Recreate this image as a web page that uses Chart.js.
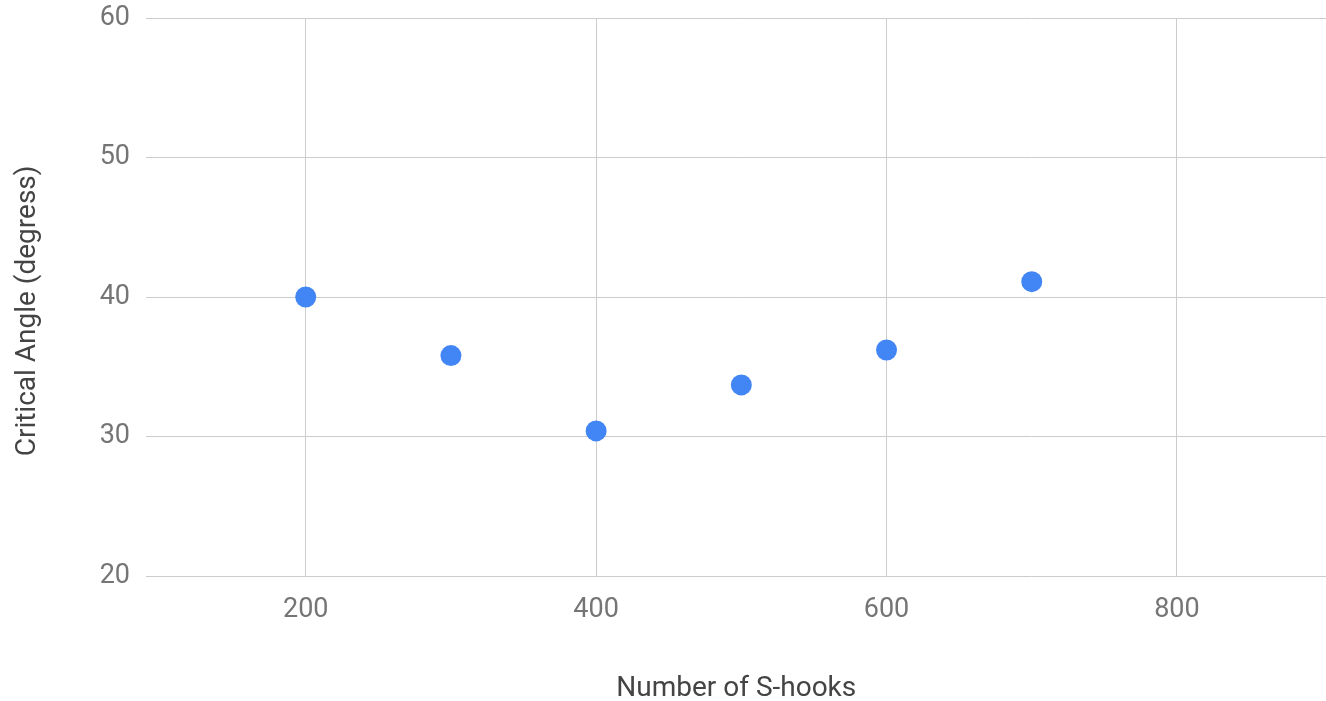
<!DOCTYPE html>
<html>
<head>
<meta charset="utf-8">
<script src="https://cdn.jsdelivr.net/npm/chart.js@4"></script>
<style>
  html, body { margin: 0; padding: 0; background: #fff; overflow: hidden; }
  /* canvas is a bit wider than the window so the point overflow padding falls outside */
  #wrap { width: 1326px; height: 701px; overflow: hidden; }
</style>
</head>
<body>
<div id="wrap"><canvas id="chart" width="1337" height="701"></canvas></div>
<script>
  // data
  const sHooks = [200, 300, 400, 500, 600, 700];
  const criticalAngle = [40.0, 35.8, 30.4, 33.7, 36.2, 41.1];
  const xRange = [90, 903];
  const xTicks = [200, 400, 600, 800];
  const yTicks = [20, 30, 40, 50, 60];

  const points = sHooks.map((x, i) => ({ x: x, y: criticalAngle[i] }));

  const tickFont = { family: "Roboto", size: 27 };
  const titleFont = { family: "Roboto", size: 28, lineHeight: 1 };
  const gridColor = "#cccccc";

  const ctx = document.getElementById("chart").getContext("2d");
  const chart = new Chart(ctx, {
    type: "scatter",
    data: {
      datasets: [{
        label: "Critical Angle",
        data: points,
        backgroundColor: "#4285f4",
        borderColor: "#4285f4",
        borderWidth: 0,
        pointRadius: 10.5,
        pointHoverRadius: 10.5
      }]
    },
    options: {
      responsive: false,
      animation: false,
      layout: { padding: { top: 18, right: 0, left: 0, bottom: 0 } },
      plugins: {
        legend: { display: false },
        tooltip: { enabled: false }
      },
      scales: {
        x: {
          type: "linear",
          min: xRange[0],
          max: xRange[1],
          border: { display: false },
          grid: { color: gridColor, lineWidth: 1, drawTicks: false },
          ticks: {
            color: "#757575",
            font: tickFont,
            padding: 18,
            maxRotation: 0,
            autoSkip: false
          },
          afterBuildTicks: (scale) => {
            scale.ticks = xTicks.map(v => ({ value: v }));
          },
          title: {
            display: true,
            text: "Number of S-hooks",
            color: "#444444",
            font: titleFont,
            padding: { top: 0, bottom: -2 }
          },
          afterFit: (scale) => {
            scale.height = 125;
            scale.paddingLeft = 0;
            scale.paddingRight = 0;
          }
        },
        y: {
          type: "linear",
          min: yTicks[0],
          max: yTicks[yTicks.length - 1],
          border: { display: false },
          grid: { color: gridColor, lineWidth: 1, drawTicks: false },
          ticks: {
            color: "#757575",
            font: tickFont,
            padding: 16,
            autoSkip: false
          },
          afterBuildTicks: (scale) => {
            scale.ticks = yTicks.map(v => ({ value: v }));
          },
          title: {
            display: true,
            // trailing spaces nudge the centred title down a little, as in the picture
            text: "Critical Angle (degress)    ",
            color: "#444444",
            font: titleFont,
            padding: { top: 14, bottom: 0 }
          },
          afterFit: (scale) => {
            scale.width = 146;
            scale.paddingTop = 0;
            scale.paddingBottom = 0;
          }
        }
      }
    }
  });
</script>
</body>
</html>
